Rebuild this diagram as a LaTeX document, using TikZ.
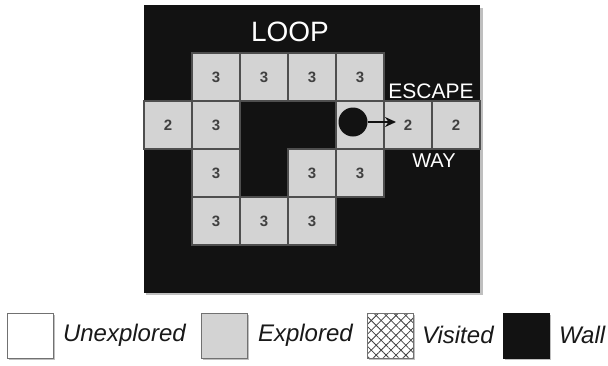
\documentclass[tikz,border=0pt]{standalone}
\usepackage{fontspec}
\setmainfont{Liberation Sans}
\usetikzlibrary{patterns.meta,arrows.meta}
\definecolor{wallc}{HTML}{121212}
\definecolor{cellc}{HTML}{D3D3D3}
\definecolor{edgec}{HTML}{4E4E4E}
\definecolor{numc}{HTML}{404040}
\tikzset{
  every node/.style={inner sep=0pt, outer sep=0pt},
  cellbox/.style={draw=edgec, line width=1.2pt, fill=cellc, minimum size=48pt,
    font=\fontsize{15}{15}\selectfont\bfseries, text=numc},
  maplabel/.style={text=white},
  keybox/.style={draw=edgec!80, line width=1pt, minimum width=46pt, minimum height=45pt},
  keytext/.style={font=\fontsize{24}{24}\selectfont\itshape, text=black!90, anchor=west},
  shade/.style={fill=black!25, draw=none}
}
\begin{document}
\begin{tikzpicture}[x=1pt,y=-1pt]
\useasboundingbox (0,0) rectangle (608,365);
% the maze area
\fill[shade] (146,8) rectangle (483,295);
\node[fill=wallc, minimum width=336pt, minimum height=288pt, anchor=north west] (maze) at (144,5) {};
% explored cells: row/column/visit count
\foreach \r/\c/\n in {1/1/3,1/2/3,1/3/3,1/4/3,
                      2/0/2,2/1/3,2/4/,2/5/2,2/6/2,
                      3/1/3,3/3/3,3/4/3,
                      4/1/3,4/2/3,4/3/3}{
  \node[cellbox] (cell-\r-\c) at ({144+48*\c+24},{5+48*\r+24}) {\n};
}
% labels on the maze
\node[maplabel, font=\fontsize{28}{28}\selectfont] (loop) at (290,32) {LOOP};
\node[maplabel, font=\fontsize{21}{21}\selectfont] (escape) at (431,91) {ESCAPE};
\node[maplabel, font=\fontsize{20}{20}\selectfont] (way) at (434,161) {WAY};
% the agent and its move
\node[circle, fill=wallc, minimum size=29pt] (agent) at (353,122) {};
\coordinate (goal) at (396,122);
\draw[wallc, line width=2.6pt, -{Stealth[length=11pt,width=10pt]}] (agent.east) -- (goal);
% legend
\fill[shade] (9,315) rectangle (55,360);
\node[keybox, fill=white, anchor=north west] (k-unexp) at (7,313) {};
\node[keytext] (t-unexp) at (63,335) {Unexplored};
\fill[shade] (203,315) rectangle (249,360);
\node[keybox, fill=cellc, anchor=north west] (k-expl) at (201,313) {};
\node[keytext] (t-expl) at (258,335) {Explored};
\fill[shade] (369,315) rectangle (415,360);
\node[keybox, fill=white, anchor=north west] (k-vis) at (367,313) {};
\fill[pattern={Lines[angle=45,distance=7pt,line width=0.8pt]}, pattern color=black!75] (k-vis.south west) rectangle (k-vis.north east);
\fill[pattern={Lines[angle=-45,distance=7pt,line width=0.8pt]}, pattern color=black!75] (k-vis.south west) rectangle (k-vis.north east);
\draw[edgec!80, line width=1pt] (k-vis.south west) rectangle (k-vis.north east);
\node[keytext] (t-vis) at (422,335) {Visited};
\fill[shade] (505,315) rectangle (551,360);
\node[keybox, fill=wallc, draw=wallc, anchor=north west] (k-wall) at (503,313) {};
\node[keytext] (t-wall) at (559,335) {Wall};
\end{tikzpicture}
\end{document}
